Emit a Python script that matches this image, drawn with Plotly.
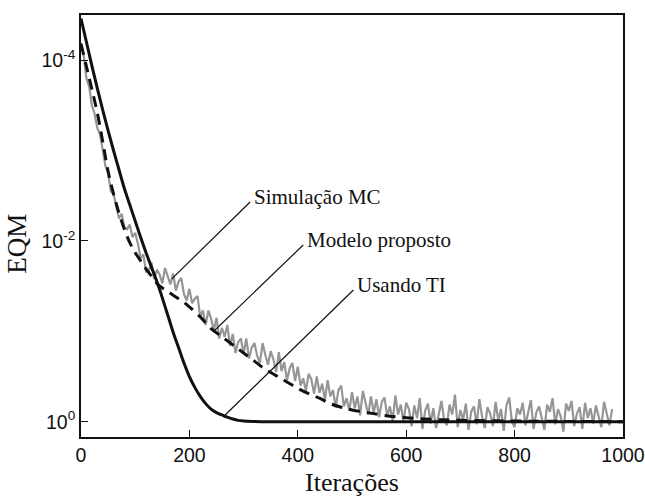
import plotly.graph_objects as go

# ---------------- data (log10 of EQM) ----------------
ti_iter = [0, 10, 20, 30, 40, 50, 60, 70, 80, 90, 100, 110, 120, 130, 140, 150,
           160, 170, 180, 190, 200, 210, 220, 230, 240, 250, 260, 270, 280, 290,
           300, 320, 350, 1000]
ti_log10 = [4.46, 4.20, 3.94, 3.69, 3.45, 3.22, 3.00, 2.79, 2.58, 2.40, 2.22, 2.04,
            1.87, 1.71, 1.55, 1.37, 1.18, 0.99, 0.82, 0.65, 0.50, 0.38, 0.28, 0.20,
            0.14, 0.10, 0.075, 0.05, 0.03, 0.015, 0.008, 0.003, 0.0, 0.0]

model_iter = [0, 10, 20, 30, 40, 50, 60, 70, 80, 90, 100, 110, 120, 130, 140, 150,
              160, 170, 180, 190, 200, 220, 240, 260, 280, 300, 320, 340, 360, 380,
              400, 420, 440, 460, 480, 500, 530, 560, 600, 650, 700, 800, 900, 1000]
model_log10 = [4.18, 3.93, 3.68, 3.42, 3.10, 2.77, 2.52, 2.31, 2.13, 1.98, 1.87, 1.78,
               1.69, 1.61, 1.53, 1.48, 1.44, 1.40, 1.36, 1.32, 1.27, 1.16, 1.03, 0.94,
               0.85, 0.76, 0.67, 0.58, 0.51, 0.44, 0.37, 0.31, 0.26, 0.20, 0.16, 0.13,
               0.10, 0.07, 0.045, 0.025, 0.015, 0.008, 0.003, 0.0]

mc_iter = list(range(0, 981, 5))
mc_log10 = [
    4.19, 4.05, 3.80, 3.71, 3.50, 3.41, 3.25, 3.18, 3.01, 2.83,
    2.75, 2.55, 2.52, 2.40, 2.25, 2.30, 2.15, 2.13, 2.18, 2.04,
    2.09, 1.97, 1.81, 1.85, 1.66, 1.67, 1.76, 1.58, 1.68, 1.63,
    1.53, 1.70, 1.61, 1.52, 1.64, 1.45, 1.55, 1.59, 1.41, 1.34,
    1.47, 1.31, 1.36, 1.39, 1.16, 1.23, 1.07, 1.23, 1.14, 1.01,
    1.15, 0.92, 1.04, 0.94, 1.07, 0.84, 0.97, 0.76, 0.88, 0.92,
    0.75, 0.92, 0.70, 0.82, 0.87, 0.73, 0.65, 0.87, 0.74, 0.63,
    0.78, 0.69, 0.55, 0.77, 0.56, 0.66, 0.46, 0.59, 0.65, 0.45,
    0.61, 0.40, 0.48, 0.34, 0.53, 0.47, 0.31, 0.50, 0.32, 0.42,
    0.24, 0.46, 0.28, 0.35, 0.16, 0.35, 0.40, 0.17, 0.26, 0.12,
    0.33, 0.15, 0.28, 0.07, 0.34, 0.20, 0.08, 0.28, 0.10, 0.25,
    0.05, 0.22, 0.27, 0.06, 0.17, 0.01, 0.29, 0.08, 0.19, 0.00,
    0.21, 0.14, -0.05, 0.18, 0.04, 0.26, -0.08, 0.12, 0.20, -0.02,
    0.15, -0.07, 0.10, 0.23, 0.02, -0.04, 0.19, 0.08, 0.30, -0.06,
    0.13, 0.02, 0.20, -0.09, 0.11, 0.17, -0.03, 0.25, 0.06, -0.07,
    0.16, 0.09, -0.05, 0.22, 0.01, 0.14, -0.10, 0.18, 0.27, 0.00,
    -0.06, 0.15, 0.08, 0.21, -0.04, 0.12, 0.24, -0.08, 0.10, 0.17,
    0.03, -0.09, 0.19, 0.11, 0.26, -0.03, 0.14, 0.06, -0.11, 0.20,
    0.12, 0.23, -0.05, 0.09, 0.16, -0.08, 0.21, 0.04, 0.15, -0.02,
    0.18, 0.07, -0.06, 0.22, 0.10, -0.04, 0.14,
]

x_ticks = [0, 200, 400, 600, 800, 1000]
y_tickvals = [1, 100, 10000]
y_ticktext = ["10<sup>0</sup>", "10<sup>-2</sup>", "10<sup>-4</sup>"]

# labels with leader lines: (text, [x0, x1], [log10 y0, log10 y1])
labels = ["Simulação MC", "Modelo proposto", "Usando TI"]
leader_x = [[167.5, 312], [247.4, 410], [265.9, 502.6]]
leader_log10 = [[1.58, 2.43], [1.015, 1.955], [0.074, 1.457]]

def to_eqm(vals):
    return [10 ** v for v in vals]

fig = go.Figure()
fig.add_trace(go.Scatter(x=mc_iter, y=to_eqm(mc_log10), mode="lines",
                         line=dict(color="#969696", width=2.2), showlegend=False))
fig.add_trace(go.Scatter(x=model_iter, y=to_eqm(model_log10), mode="lines",
                         line=dict(color="#111111", width=3, dash="11px,7px"),
                         line_shape="spline", showlegend=False))
fig.add_trace(go.Scatter(x=ti_iter, y=to_eqm(ti_log10), mode="lines",
                         line=dict(color="#111111", width=3),
                         line_shape="spline", showlegend=False))

for txt, lx, ly in zip(labels, leader_x, leader_log10):
    fig.add_trace(go.Scatter(x=lx, y=to_eqm(ly), mode="lines",
                             line=dict(color="#111111", width=1.2), showlegend=False))
    fig.add_annotation(x=lx[1] + 3, y=ly[1] + 0.06, xref="x", yref="y",
                       text=txt, showarrow=False, xanchor="left", yanchor="middle",
                       font=dict(family="Liberation Serif", size=21, color="#111111"))

# axis titles
fig.add_annotation(x=-0.117, y=0.457, xref="paper", yref="paper", text="EQM",
                   textangle=-90, showarrow=False, xanchor="center", yanchor="middle",
                   font=dict(family="Liberation Serif", size=27, color="#111111"))
fig.add_annotation(x=0.5, y=-0.108, xref="paper", yref="paper", text="Iterações",
                   showarrow=False, xanchor="center", yanchor="middle",
                   font=dict(family="Liberation Serif", size=26, color="#111111"))

axis_common = dict(showgrid=False, zeroline=False, showline=True, linecolor="#111111",
                   linewidth=1.6, mirror=True, ticks="inside", ticklen=7,
                   tickwidth=1.4, tickcolor="#111111", automargin=False,
                   tickfont=dict(family="Liberation Sans", size=19.5, color="#111111"))

fig.update_xaxes(range=[0, 1000], tickvals=x_ticks, **axis_common)
fig.update_yaxes(type="log", range=[-0.169, 4.499], tickvals=y_tickvals,
                 ticktext=y_ticktext, **axis_common)

fig.update_layout(width=645, height=496, margin=dict(l=81, r=22, t=15, b=59),
                  plot_bgcolor="white", paper_bgcolor="white")

fig.write_html("out.html", config={"displayModeBar": False},
               post_script="document.body.style.margin='0';document.body.style.padding='0';"
                           "document.body.style.overflow='hidden';")
